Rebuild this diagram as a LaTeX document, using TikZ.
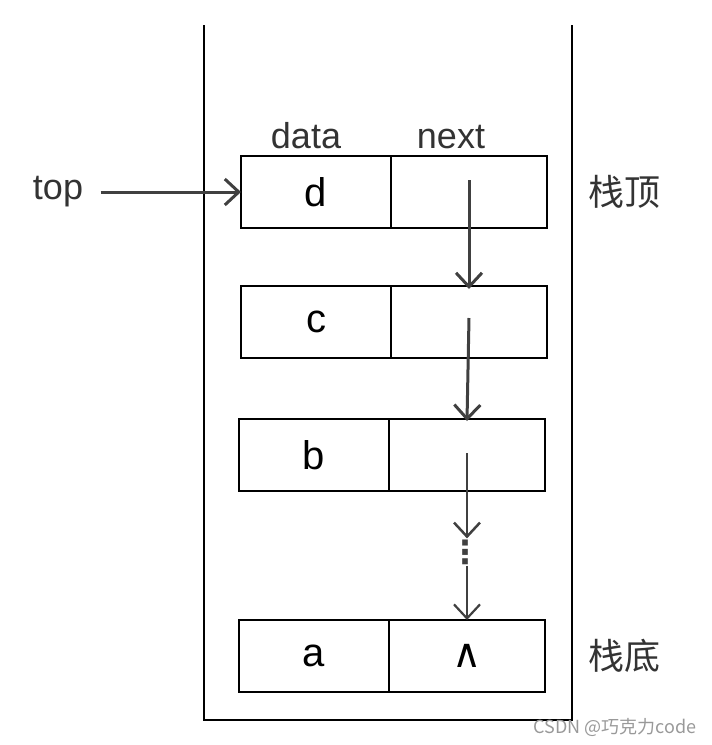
\documentclass[tikz,border=0pt]{standalone}
\usepackage{fontspec}
\setmainfont{Liberation Sans}
\newfontfamily\cjk{Noto Sans CJK SC}
\newfontfamily\symfont{DejaVu Sans}
\usetikzlibrary{positioning,arrows.meta}

\begin{document}
\begin{tikzpicture}[x=1pt,y=-1pt,
        cell/.style={draw, line width=2.5pt, outer sep=0pt, inner sep=0pt, minimum height=72pt,
            font=\fontsize{40}{44}\selectfont},
        datcell/.style={cell, minimum width=150pt},
        nxtcell/.style={cell, minimum width=156pt},
        wall/.style={line width=2.5pt},
        arrow/.style={-{Straight Barb[length=14pt,width=26pt]}, line width=3pt, draw=black!75},
        label/.style={font=\fontsize{36}{40}\selectfont, text=black!80}
    ]
        \useasboundingbox (0,0) rectangle (712,745);

        \draw[wall] (204,25) -- (204,720) -- (572,720) -- (572,25);

        \node[datcell] (datd) at (316,192) {d};
        \node[nxtcell, right=0pt of datd] (nxtd) {};
        \node[datcell] (datc) at (316,322) {c};
        \node[nxtcell, right=0pt of datc] (nxtc) {};
        \node[datcell] (datb) at (314,455) {b};
        \node[nxtcell, right=0pt of datb] (nxtb) {};
        \node[datcell] (data) at (314,656) {a};
        \node[nxtcell, right=0pt of data] (nxta) {\symfont ∧};

        \node[label, above=4pt of datd, xshift=-10pt] {data};
        \node[label, above=4pt of nxtd, xshift=-18pt] {next};

        \node[label] (top) at (58,192) {top};
        \node[label, right=38pt of nxtd] {\cjk 栈顶};
        \node[label, right=40pt of nxta] {\cjk 栈底};
        \node[font=\fontsize{32}{34}\selectfont\symfont\bfseries, text=black!75, inner sep=1pt] (gap) at (465,552) {⋮};

        \draw[arrow] (top.east) ++(14pt,0) -- (datd.west);
        \draw[arrow] ([yshift=12pt]nxtd.center) -- ([yshift=-3pt]nxtc.north);
        \draw[arrow] ([yshift=4pt]nxtc.center) -- ([yshift=-2pt]nxtb.north);
        \draw[arrow, line width=2.5pt] ([yshift=2pt]nxtb.center) -- (gap.north -| nxtb.center);
        \draw[arrow, line width=2.2pt] (gap.south -| nxta.center) -- (nxta.north);

        \node[font=\fontsize{18}{20}\selectfont, text=black!40, anchor=east] (mark) at (700,727) {\cjk CSDN @巧克力code};
    \end{tikzpicture}
\end{document}
